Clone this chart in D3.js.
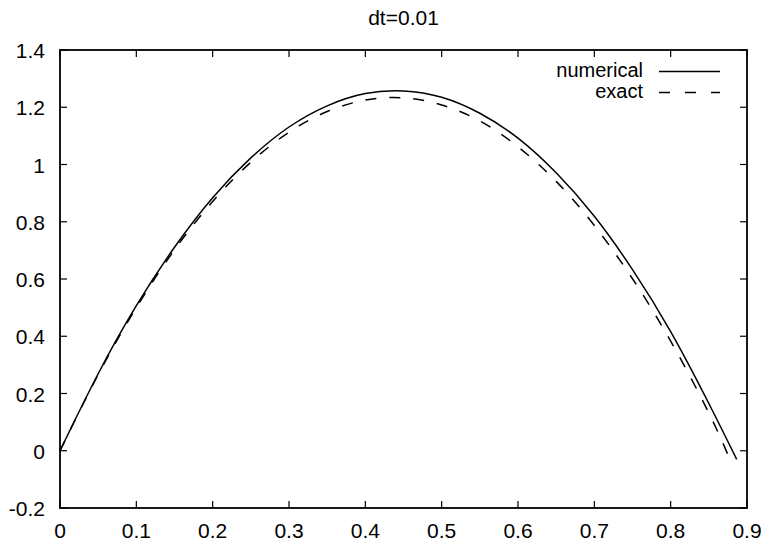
<!DOCTYPE html>
<html>
<head>
<meta charset="utf-8">
<script src="https://cdn.jsdelivr.net/npm/d3@7"></script>
<style>
    body { margin: 0; background: #fff; }
    text { font-family: "Liberation Sans", Arial, Helvetica, sans-serif; }
</style>
</head>
<body>
<div id="chart"></div>
<script>

// values
const numX = [0, 0.05, 0.10, 0.15, 0.20, 0.25, 0.30, 0.35, 0.40, 0.45, 0.50, 0.55, 0.60, 0.65, 0.70, 0.75, 0.80, 0.85, 0.8865];
const numY = [0, 0.269, 0.507, 0.711, 0.884, 1.023, 1.131, 1.205, 1.248, 1.257, 1.235, 1.179, 1.092, 0.971, 0.819, 0.633, 0.416, 0.165, -0.03];

const exactX = [0, 0.05, 0.10, 0.15, 0.20, 0.25, 0.30, 0.35, 0.40, 0.45, 0.50, 0.55, 0.60, 0.65, 0.70, 0.75, 0.80, 0.85, 0.8808];
const exactY = [0, 0.266, 0.500, 0.702, 0.871, 1.008, 1.113, 1.185, 1.225, 1.233, 1.208, 1.152, 1.062, 0.941, 0.787, 0.601, 0.383, 0.132, -0.05];

const xTicks = [0, 0.1, 0.2, 0.3, 0.4, 0.5, 0.6, 0.7, 0.8, 0.9];
const yTicks = [-0.2, 0, 0.2, 0.4, 0.6, 0.8, 1, 1.2, 1.4];

const seriesNames = ["numerical", "exact"];
const title = "dt=0.01";

let margin = {top: 50, right: 22, bottom: 37, left: 60};
let width = 769 - margin.left - margin.right;
let height = 545 - margin.top - margin.bottom;

let svg = d3.select("#chart")
    .append("svg")
    .attr("width", 769)
    .attr("height", 545);

let g = svg.append("g")
    .attr("transform", "translate(" + margin.left + "," + margin.top + ")");

let x = d3.scaleLinear().domain([0, 0.9]).range([0, width]);
let y = d3.scaleLinear().domain([-0.2, 1.4]).range([height, 0]);

const fontSize = "21px";
const tickLen = 7;
// gnuplot prints a plain hyphen, not the unicode minus
const fmt = d => d3.format("~g")(d).replace("\u2212", "-");

// title
svg.append("text")
    .attr("x", margin.left + width / 2)
    .attr("y", 25)
    .attr("text-anchor", "middle")
    .attr("font-size", fontSize)
    .text(title);

// ticks, inward and mirrored like gnuplot
g.selectAll(".xtick-b")
    .data(xTicks)
    .enter().append("line")
    .attr("x1", d => x(d)).attr("x2", d => x(d))
    .attr("y1", height).attr("y2", height - tickLen)
    .attr("stroke", "#000").attr("stroke-width", 1.2);

g.selectAll(".xtick-t")
    .data(xTicks)
    .enter().append("line")
    .attr("x1", d => x(d)).attr("x2", d => x(d))
    .attr("y1", 0).attr("y2", tickLen)
    .attr("stroke", "#000").attr("stroke-width", 1.2);

g.selectAll(".ytick-l")
    .data(yTicks)
    .enter().append("line")
    .attr("x1", 0).attr("x2", tickLen)
    .attr("y1", d => y(d)).attr("y2", d => y(d))
    .attr("stroke", "#000").attr("stroke-width", 1.2);

g.selectAll(".ytick-r")
    .data(yTicks)
    .enter().append("line")
    .attr("x1", width).attr("x2", width - tickLen)
    .attr("y1", d => y(d)).attr("y2", d => y(d))
    .attr("stroke", "#000").attr("stroke-width", 1.2);

// tick labels
g.selectAll(".xlabel")
    .data(xTicks)
    .enter().append("text")
    .attr("x", d => x(d))
    .attr("y", height + 30)
    .attr("text-anchor", "middle")
    .attr("font-size", fontSize)
    .text(fmt);

g.selectAll(".ylabel")
    .data(yTicks)
    .enter().append("text")
    .attr("x", -15)
    .attr("y", d => y(d) + 8)
    .attr("text-anchor", "end")
    .attr("font-size", fontSize)
    .text(fmt);

// curves
let line = d3.line()
    .x(d => x(d[0]))
    .y(d => y(d[1]))
    .curve(d3.curveNatural);

let numData = d3.zip(numX, numY);
let exactData = d3.zip(exactX, exactY);

g.append("path")
    .datum(numData)
    .attr("d", line)
    .attr("fill", "none")
    .attr("stroke", "#000")
    .attr("stroke-width", 1.5);

g.append("path")
    .datum(exactData)
    .attr("d", line)
    .attr("fill", "none")
    .attr("stroke", "#000")
    .attr("stroke-width", 1.5)
    .attr("stroke-dasharray", "11,13");

// frame
g.append("rect")
    .attr("x", 0).attr("y", 0)
    .attr("width", width).attr("height", height)
    .attr("fill", "none")
    .attr("stroke", "#000")
    .attr("stroke-width", 1.8);

// legend
let legend = svg.append("g").attr("class", "legend");
seriesNames.forEach((name, i) => {
    let ly = 71.5 + i * 21;
    legend.append("text")
        .attr("x", 643)
        .attr("y", ly + 5)
        .attr("text-anchor", "end")
        .attr("font-size", "20px")
        .text(name);
    legend.append("line")
        .attr("x1", 659).attr("x2", 720)
        .attr("y1", ly).attr("y2", ly)
        .attr("stroke", "#000")
        .attr("stroke-width", 1.5)
        .attr("stroke-dasharray", i === 1 ? "11,15" : null);
});

</script>
</body>
</html>
